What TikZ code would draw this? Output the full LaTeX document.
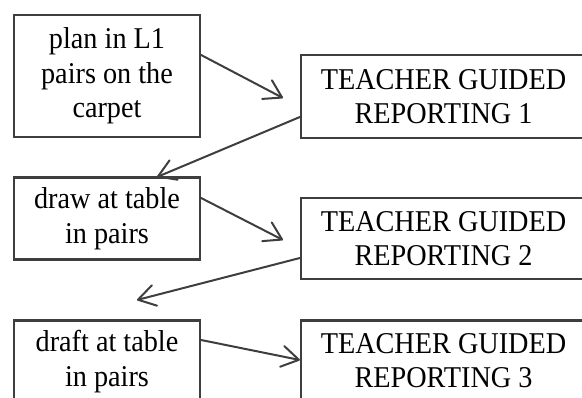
\documentclass[tikz,border=0pt]{standalone}
\usepackage{fontspec}
\setmainfont{Liberation Serif}[FakeStretch=0.935]
\usetikzlibrary{arrows.meta}
\definecolor{linegray}{HTML}{3E3E3E}
\begin{document}
\begin{tikzpicture}[x=1pt,y=-1pt,
  box/.style={draw=linegray, line width=2.2pt, align=center, inner sep=0pt,
    font=\fontsize{30.2}{34.5}\selectfont, text=black},
  leftbox/.style={box, minimum width=186pt, minimum height=82pt},
  rightbox/.style={box, minimum width=285pt, minimum height=83pt},
  conn/.style={draw=linegray, line width=2pt, line cap=round,
    -{Straight Barb[length=17pt,width=21pt,line width=2pt,round]}}]
\path[use as bounding box] (0,0) rectangle (582,398);
\clip (0,0) rectangle (582,398);
\node[box, minimum width=186pt, minimum height=122pt] (A) at (107,76) {plan in L1\\pairs on the\\carpet};
\node[rightbox] (B) at (443.5,96.5) {TEACHER GUIDED\\REPORTING 1};
\node[leftbox] (C) at (107,218.5) {draw at table\\in pairs};
\node[rightbox, minimum height=81pt] (D) at (443.5,238.5) {TEACHER GUIDED\\REPORTING 2};
\node[leftbox] (E) at (107,361.5) {draft at table\\in pairs};
\node[rightbox, minimum height=80pt] (F) at (443.5,360.5) {TEACHER GUIDED\\REPORTING 3};
\coordinate (t1) at (283,98);
\coordinate (t2) at (157,177);
\coordinate (t3) at (283,240);
\coordinate (t4) at (137,300);
\draw[conn] ([yshift=21pt]A.east) -- (t1);
\draw[conn] ([yshift=-20.5pt]B.west) -- (t2);
\draw[conn] ([yshift=20.5pt]C.east) -- (t3);
\draw[conn] ([yshift=-19.5pt]D.west) -- (t4);
\draw[conn] ([yshift=21.5pt]E.east) -- ([yshift=0.5pt]F.west);
\end{tikzpicture}
\end{document}
